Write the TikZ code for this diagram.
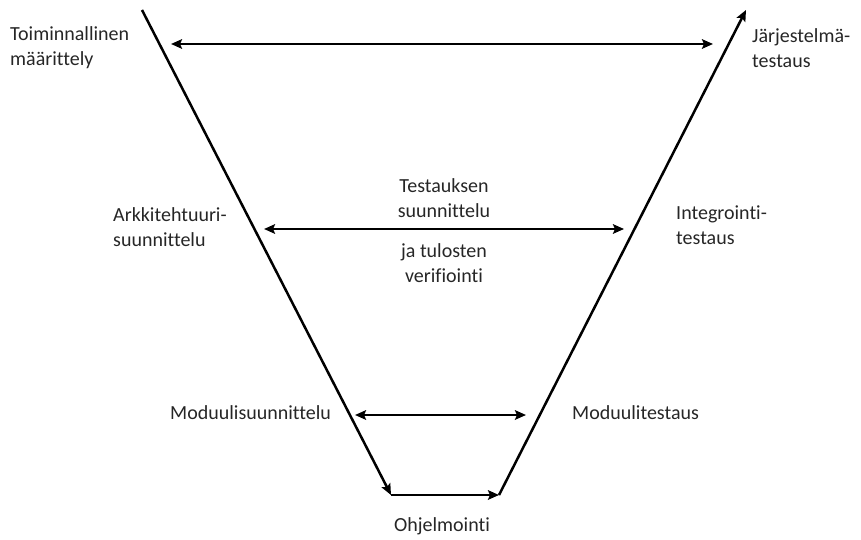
\documentclass[tikz,border=0pt]{standalone}
\usepackage{fontspec}
\setmainfont[Ligatures={NoCommon}]{Carlito}
\usetikzlibrary{arrows.meta}
\begin{document}
\begin{tikzpicture}[x=1pt,y=-1pt,
  lbl/.style={font=\fontsize{20}{25}\selectfont, inner sep=0pt, text=black!85},
  phase/.style={line width=2.5pt, -{Stealth[length=11pt,width=9.5pt,inset=2pt]}},
  link/.style={line width=2.5pt, {Stealth[length=11pt,width=9.5pt,inset=2pt]}-{Stealth[length=11pt,width=9.5pt,inset=2pt]}}]
\useasboundingbox (0,0) rectangle (861,540);
% V-model corner points
\coordinate (vtl) at (142,10);
\coordinate (vbl) at (391,495);
\coordinate (vbr) at (499,495);
\coordinate (vtr) at (746,10);
\draw[phase] (vtl) -- (vbl);
\draw[phase] (vbl) -- (vbr);
\draw[phase] (vbr) -- (vtr);
% horizontal links between design and test levels
\coordinate (a1) at (171,44);  \coordinate (b1) at (713,44);
\coordinate (a2) at (264,229); \coordinate (b2) at (624,229);
\coordinate (a3) at (355,415); \coordinate (b3) at (526,415);
\draw[link] (a1) -- (b1);
\draw[link] (a2) -- (b2);
\draw[link] (a3) -- (b3);
% labels
\node[lbl, anchor=west, align=left] (fm) at (10,48) {Toiminnallinen\\määrittely};
\node[lbl, anchor=west, align=left] (jt) at (752,48) {Järjestelmä-\\testaus};
\node[lbl, anchor=west, align=left] (as) at (113,227) {Arkkitehtuuri-\\suunnittelu};
\node[lbl, anchor=west, align=left] (it) at (676,225) {Integrointi-\\testaus};
\node[lbl, align=center] (ts) at (444,198) {Testauksen\\suunnittelu};
\node[lbl, align=center] (tv) at (444,263) {ja tulosten\\verifiointi};
\node[lbl, anchor=west] (ms) at (170,413) {Moduulisuunnittelu};
\node[lbl, anchor=west] (mt) at (572,413) {Moduulitestaus};
\node[lbl] (oh) at (442,526) {Ohjelmointi};
\end{tikzpicture}
\end{document}
